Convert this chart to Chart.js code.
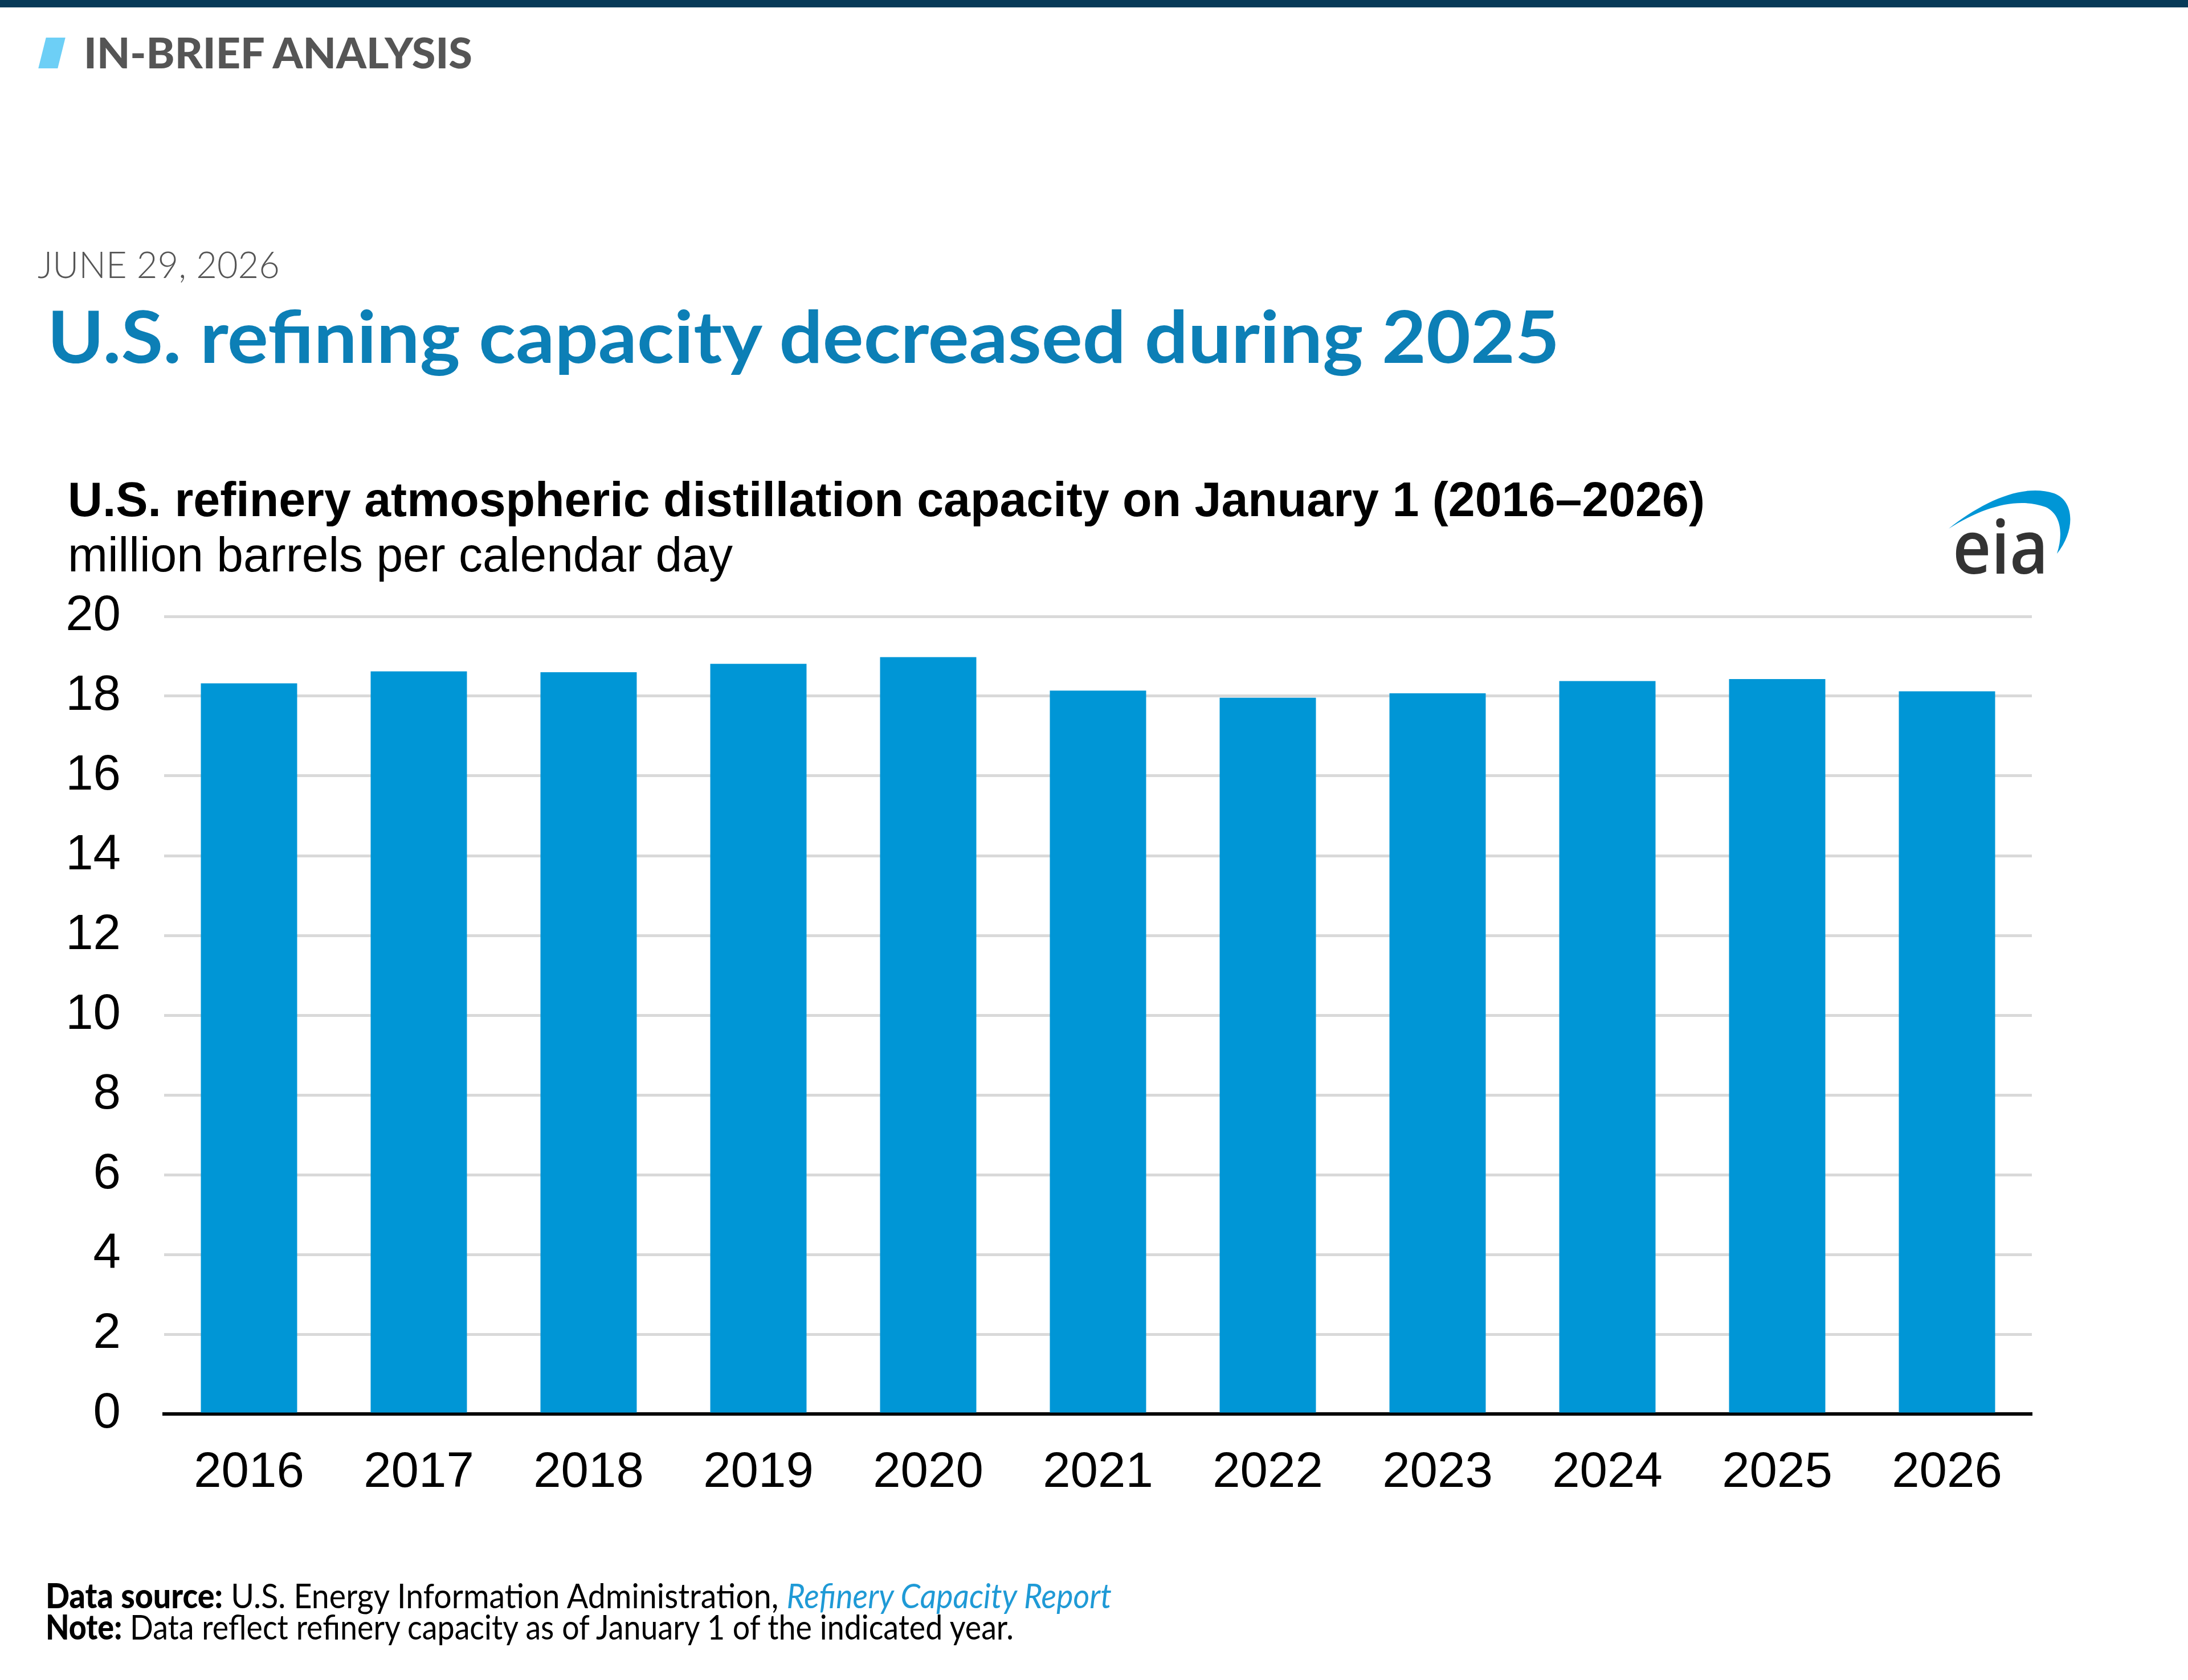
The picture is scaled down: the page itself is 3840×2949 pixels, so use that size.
<!DOCTYPE html>
<html>
<head>
<meta charset="utf-8">
<script src="https://cdn.jsdelivr.net/npm/chart.js"></script>
<style>
  html, body { margin: 0; padding: 0; background: #fff; }
  body { position: relative; width: 3840px; height: 2949px; overflow: hidden; }
  .txt { position: absolute; white-space: nowrap; transform-origin: 0 0; }
  .lato { font-family: Lato, "Open Sans", sans-serif; }
  .arial { font-family: "Liberation Sans", Arial, sans-serif; }
  #topbar { position: absolute; left: 0; top: 0; width: 3840px; height: 13px; background: #073a58; }
  #slash { position: absolute; left: 74px; top: 66px; width: 34px; height: 54px; background: #6dcff6; transform: skewX(-14deg); }
  #chartBox { position: absolute; left: 0; top: 1000px; width: 3840px; height: 1700px; }
  #logo { position: absolute; left: 3400px; top: 840px; }
</style>
</head>
<body>
<div id="topbar"></div>
<div id="slash"></div>
<div class="txt lato" data-w="682" style="left:147px; top:54px; font-size:75px; line-height:75px; font-weight:900; color:#555;">IN-BRIEF ANALYSIS</div>
<div class="txt lato" data-w="425" style="left:66px; top:430px; font-size:66px; line-height:66px; font-weight:300; color:#555;">JUNE 29, 2026</div>
<div class="txt lato" data-w="2654" style="left:83px; top:526px; font-size:126px; line-height:126px; font-weight:700; color:#0c7fb6;">U.S. refining capacity decreased during 2025</div>

<div class="txt arial" data-w="2873" style="left:119px; top:834px; font-size:85px; line-height:85px; font-weight:700; color:#000;">U.S. refinery atmospheric distillation capacity on January 1 (2016–2026)</div>
<div class="txt arial" data-w="1167" style="left:119px; top:931px; font-size:85px; line-height:85px; color:#000;">million barrels per calendar day</div>

<svg id="logo" width="260" height="190" viewBox="0 0 260 190">
  <path d="M20 88 C80 40, 150 8, 205 26 C242 40, 242 92, 210 132 C222 95, 216 62, 190 50 C140 32, 80 50, 20 88 Z" fill="#0096d6"/>
  <text x="27" y="167" font-family="Open Sans, Lato, sans-serif" font-weight="600" font-size="130" fill="#333" textLength="168" lengthAdjust="spacingAndGlyphs">eia</text>
</svg>

<div id="chartBox"><canvas id="chart" width="3840" height="1700"></canvas></div>

<div class="txt lato" data-w="1871" style="left:80px; top:2770px; font-size:60px; line-height:60px; color:#000;"><b style="font-weight:900">Data source:</b> U.S. Energy Information Administration, <i style="color:#1f9ad6">Refinery Capacity Report</i></div>
<div class="txt lato" data-w="1699" style="left:80px; top:2825px; font-size:60px; line-height:60px; color:#000;"><b style="font-weight:900">Note:</b> Data reflect refinery capacity as of January 1 of the indicated year.</div>

<script>
// data
const years = ['2016', '2017', '2018', '2019', '2020', '2021', '2022', '2023', '2024', '2025', '2026'];
const capacity = [18.32, 18.62, 18.60, 18.81, 18.98, 18.14, 17.96, 18.07, 18.38, 18.43, 18.12];
const yTicks = [0, 2, 4, 6, 8, 10, 12, 14, 16, 18, 20];

const BAR_COLOR = '#0096d6';

function fitTexts() {
  document.querySelectorAll('.txt[data-w]').forEach(el => {
    const w = el.getBoundingClientRect().width;
    const target = parseFloat(el.dataset.w);
    if (w > 0) el.style.transform = `scaleX(${target / w})`;
  });
}

function drawChart() {
  const ctx = document.getElementById('chart').getContext('2d');
  new Chart(ctx, {
    type: 'bar',
    data: {
      labels: years,
      datasets: [{
        data: capacity,
        backgroundColor: BAR_COLOR,
        borderWidth: 0,
        barPercentage: 0.567,
        categoryPercentage: 1
      }]
    },
    options: {
      responsive: false,
      animation: false,
      devicePixelRatio: 1,
      layout: {
        padding: { left: 0, top: 82, right: 274, bottom: 68 }
      },
      plugins: {
        legend: { display: false },
        tooltip: { enabled: false }
      },
      scales: {
        x: {
          afterFit: s => { s.height = 150; },
          grid: { display: false, drawTicks: false },
          border: { display: true, color: '#000', width: 6 },
          ticks: {
            color: '#000',
            padding: 52,
            font: { family: '"Liberation Sans", Arial, sans-serif', size: 87 }
          }
        },
        y: {
          min: yTicks[0],
          max: yTicks[yTicks.length - 1],
          afterFit: s => { s.width = 288; },
          afterBuildTicks: s => { s.ticks = yTicks.map(v => ({ value: v })); },
          grid: {
            // invisible tick marks make the gap between labels and plot
            // (ticks.padding would also push the plot area down)
            drawTicks: true,
            tickLength: 76,
            tickColor: 'rgba(0,0,0,0)',
            lineWidth: 5,
            color: c => (c.tick && c.tick.value === 0) ? 'rgba(0,0,0,0)' : '#d9d9d9'
          },
          border: { display: false },
          ticks: {
            color: '#000',
            padding: 0,
            font: { family: '"Liberation Sans", Arial, sans-serif', size: 87 }
          }
        }
      }
    }
  });
}

window.onload = () => {
  fitTexts();
  drawChart();
};
</script>
</body>
</html>
